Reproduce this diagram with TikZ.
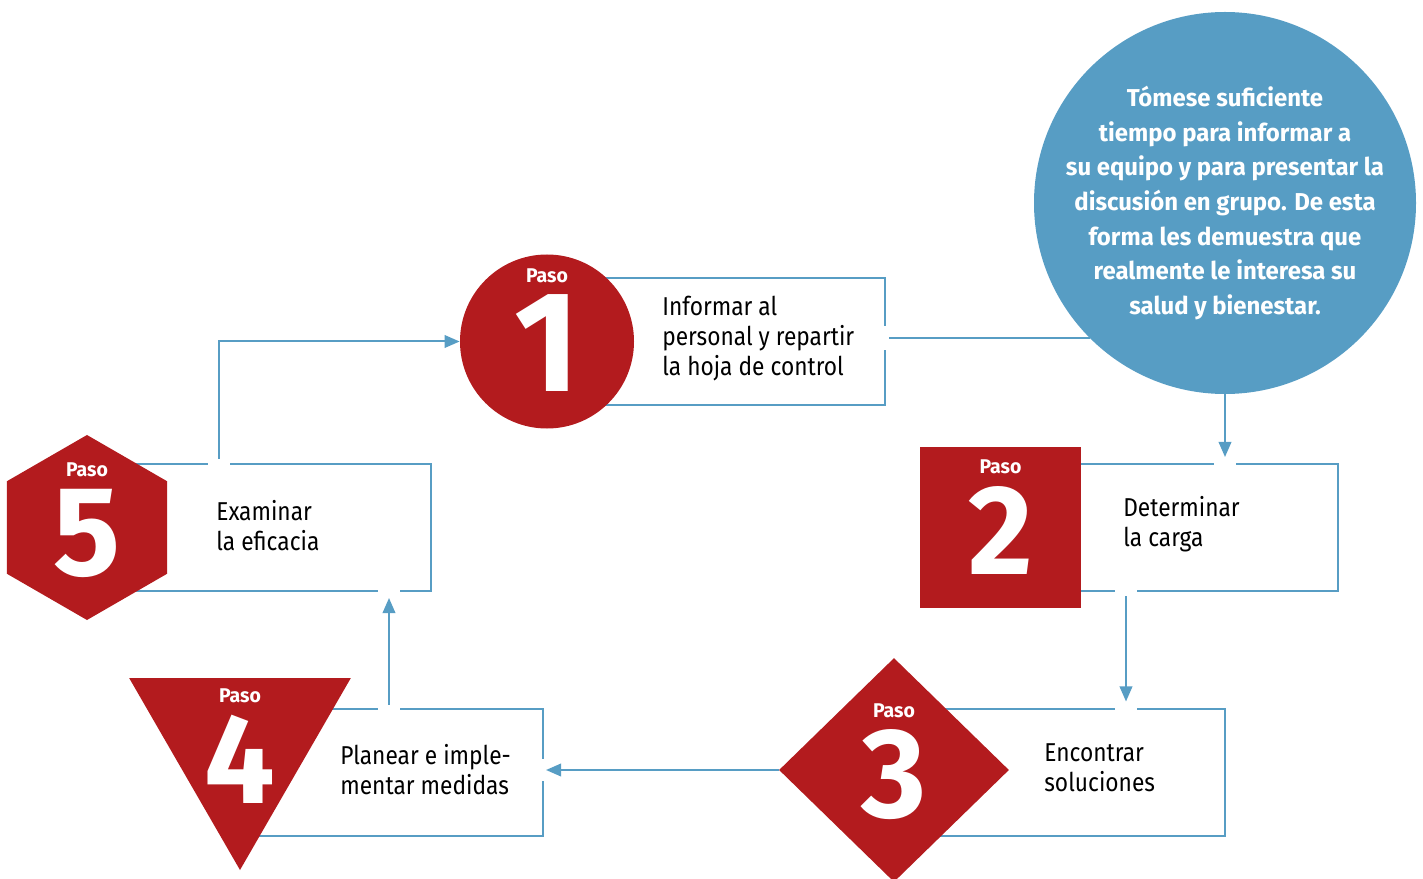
\documentclass[tikz,border=0pt]{standalone}
\usepackage{fontspec}
\setmainfont{Fira Sans}[FakeStretch=0.88, BoldFeatures={FakeStretch=0.98}]
\usetikzlibrary{arrows.meta, positioning, calc, shapes.geometric}
\definecolor{PasoRed}{RGB}{179,27,30}
\definecolor{TipBlue}{RGB}{87,157,196}
\colorlet{LinkBlue}{TipBlue}

\begin{document}
\begin{tikzpicture}[
    x=0.2mm, y=-0.2mm,
    box/.style={
        rectangle, draw=LinkBlue, line width=0.4mm,
        minimum height=25.4mm, inner sep=0pt
    },
    badge/.style={fill=PasoRed, draw=none, inner sep=0pt},
    paso/.style={
        font=\fontsize{11.3}{12}\selectfont\bfseries,
        text=white, inner sep=0pt
    },
    num/.style={
        font=\fontsize{72.6}{72}\selectfont\bfseries,
        text=white, inner sep=0pt
    },
    txt/.style={
        font=\fontsize{14.7}{17}\selectfont, align=left,
        anchor=west, inner sep=0pt
    },
    link/.style={draw=LinkBlue, line width=0.4mm},
    arr/.style={link, -{Triangle[length=3mm, width=2.5mm]}},
    notch/.style={fill=white}
]
\useasboundingbox (0,0) rectangle (1423,879);

% ===================================================================
% BOXES
% ===================================================================
\node[box, minimum width=67.4mm] (b1) at (716.5,341.5) {};
\node[box, minimum width=67.3mm] (b2) at (1169.75,527.5) {};
\node[box, minimum width=66.0mm] (b3) at (1060,772) {};
\node[box, minimum width=60.4mm] (b4) at (392,772) {};
\node[box, minimum width=68.6mm] (b5) at (259.5,527.5) {};

% ===================================================================
% STEP BADGES
% ===================================================================
\node[badge, circle, minimum size=34.8mm] (s1) at (b1.west) {};
\node[badge, rectangle, minimum size=32.2mm] (s2) at (b2.west) {};
\node[badge, diamond, minimum width=46mm, minimum height=44.8mm]
    (s3) at ($(b3.west)+(0,-2)$) {};
\node[badge, regular polygon, regular polygon sides=3,
      shape border rotate=180, minimum size=51.2mm]
    (s4) at ($(b4.west)+(0,-30)$) {};
\node[badge, regular polygon, regular polygon sides=6,
      shape border rotate=30, minimum size=37mm] (s5) at (b5.west) {};

% numbers
\node[num, font=\fontsize{81.6}{80}\selectfont\bfseries]
    (n1) at ($(s1)+(0,1.5)$) {1};
\node[num] (n2) at ($(s2)+(0,2.5)$) {2};
\node[num] (n3) at ($(s3)+(0,4.5)$) {3};
\node[num] (n4) at ($(s4)+(0,17)$) {4};
\node[num] (n5) at ($(s5)+(0,5.5)$) {5};

\node[paso, above=2.2mm of n1] (p1) {Paso};
\node[paso, above=2.2mm of n2] (p2) {Paso};
\node[paso, above=2.2mm of n3] (p3) {Paso};
\node[paso, above=2.2mm of n4] (p4) {Paso};
\node[paso, above=2.2mm of n5] (p5) {Paso};

% box texts
\node[txt] (t1) at ($(b1.west)+(115,-3)$)
    {Informar al\\personal y repartir\\la hoja de control};
\node[txt] (t2) at ($(b2.west)+(122.5,-3.5)$) {Determinar\\la carga};
\node[txt] (t3) at ($(b3.west)+(150,-4)$) {Encontrar\\soluciones};
\node[txt] (t4) at ($(b4.west)+(100,-2.5)$) {Planear e imple-\\mentar medidas};
\node[txt] (t5) at ($(b5.west)+(129,-2)$) {Examinar\\la eficacia};

% ===================================================================
% TIP BUBBLE
% ===================================================================
\node[circle, fill=TipBlue, minimum size=76.4mm, inner sep=0pt]
    (tip) at (1225,203) {};
\node[align=center, text=white, inner sep=0pt,
      font=\fontsize{13.9}{19.7}\selectfont\bfseries] (tiptext) at (tip)
    {Tómese suficiente\\
     tiempo para informar a\\
     su equipo y para presentar la\\
     discusión en grupo. De esta\\
     forma les demuestra que\\
     realmente le interesa su\\
     salud y bienestar.};

% ===================================================================
% CONNECTORS
% ===================================================================
\coordinate (k1) at (tip.225 -| b1.east);
\coordinate (k2a) at (tip.south |- b2.north);
\coordinate (k2b) at ($(b2.south west)+(125.5,0)$);
\coordinate (k3) at (k2b |- b3.north);
\coordinate (k4a) at (s3.west -| b4.east);
\coordinate (k4b) at ($(b4.north west)+(149,0)$);
\coordinate (k5a) at (k4b |- b5.south);
\coordinate (k5b) at ($(b5.north west)+(132,0)$);

% white gaps in the box borders
\fill[notch] ($(k1)+(-4,-12)$) rectangle ($(k1)+(4,12)$);
\fill[notch] ($(k4a)+(-4,-11)$) rectangle ($(k4a)+(4,11)$);
\foreach \k in {k2a, k2b, k3, k4b, k5a, k5b}
    \fill[notch] ($(\k)+(-11,-4)$) rectangle ($(\k)+(11,4)$);

\draw[arr] ($(k5b)+(0,-4)$) |- (s1.west);
\draw[link] ($(k1)+(3,0)$) -- (tip.225);
\draw[arr, shorten >=1.2mm] (tip.south) -- (k2a);
\draw[arr, shorten >=1.2mm] ($(k2b)+(0,4)$) -- (k3);
\draw[arr, shorten >=0.4mm] (s3.west) -- (k4a);
\draw[arr, shorten >=1.2mm] ($(k4b)+(0,-3)$) -- (k5a);

\end{tikzpicture}
\end{document}
